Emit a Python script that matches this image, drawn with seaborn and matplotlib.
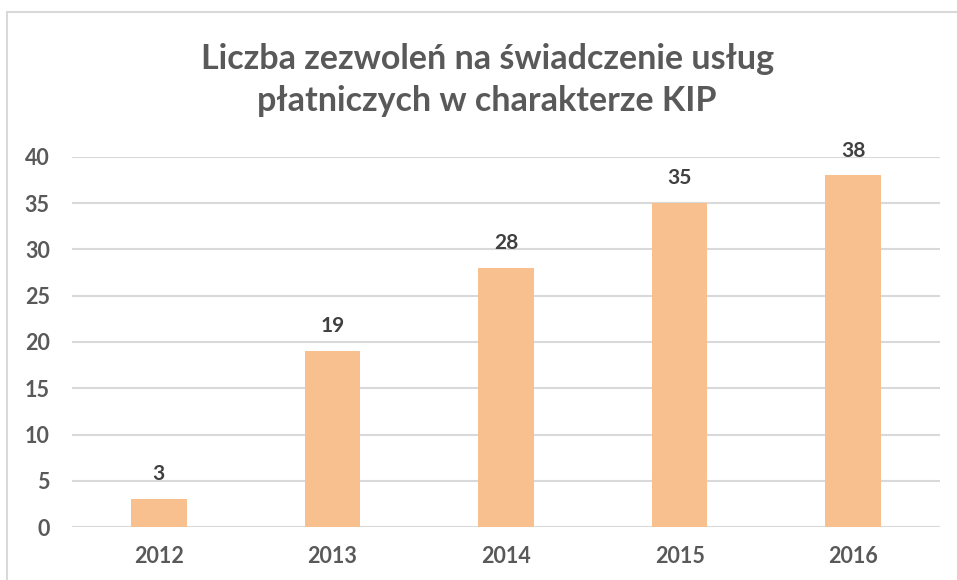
import matplotlib
matplotlib.use("Agg")
import matplotlib.pyplot as plt
import seaborn as sns
import pandas as pd
from matplotlib.lines import Line2D

# Dane
years = ["2012", "2013", "2014", "2015", "2016"]
permits = [3, 19, 28, 35, 38]
title = "Liczba zezwoleń na świadczenie usług\npłatniczych w charakterze KIP"

df = pd.DataFrame({"rok": years, "liczba": permits})

sns.set_theme(style="white")
plt.rcParams["font.family"] = ["Lato", "DejaVu Sans"]

fig = plt.figure(figsize=(9.57, 5.8), dpi=100)
ax = fig.add_axes([72 / 957, 1 - 527 / 580, 868 / 957, 370 / 580])

sns.barplot(data=df, x="rok", y="liczba", color="#F9C08F", width=0.32,
            saturation=1, edgecolor="none", ax=ax, zorder=3)

ax.set_ylim(0, 40)
ax.set_xlim(-0.5, 4.5)
ax.set_yticks(range(0, 41, 5))
ax.yaxis.grid(True, color="#D9D9D9", linewidth=1.5, zorder=0)
ax.set_axisbelow(True)
for s in ax.spines.values():
    s.set_visible(False)
ax.tick_params(length=0, labelsize=15.5, labelcolor="#595959")
for lbl in ax.get_xticklabels() + ax.get_yticklabels():
    lbl.set_fontweight("bold")
ax.tick_params(axis="x", pad=14)
ax.tick_params(axis="y", pad=16)
ax.set_xlabel("")
ax.set_ylabel("")

for i, v in enumerate(permits):
    ax.text(i, v + 1.6, str(v), ha="center", va="bottom", fontsize=15,
            fontweight="bold", color="#404040")

fig.text(0.509, 1 - 80 / 580, title, ha="center", va="center", fontsize=24.5,
         fontweight="bold", color="#595959", linespacing=1.35)

# ramka wykresu
fig.add_artist(Line2D([7 / 957, 7 / 957], [0, 1 - 12 / 580], color="#D9D9D9",
                      linewidth=1.5, transform=fig.transFigure))
fig.add_artist(Line2D([7 / 957, 1], [1 - 12 / 580, 1 - 12 / 580], color="#D9D9D9",
                      linewidth=1.5, transform=fig.transFigure))

fig.savefig("out.png", dpi=100)
